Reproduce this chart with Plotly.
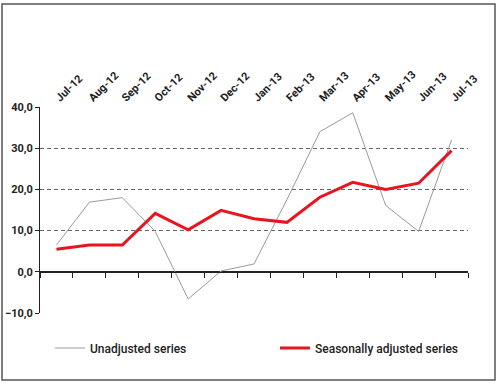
import plotly.graph_objects as go

months = ["Jul-12", "Aug-12", "Sep-12", "Oct-12", "Nov-12", "Dec-12", "Jan-13",
          "Feb-13", "Mar-13", "Apr-13", "May-13", "Jun-13", "Jul-13"]
unadjusted = [6.5, 16.9, 18.0, 9.8, -6.6, 0.2, 1.9, 17.5, 34.0, 38.6, 16.1, 9.8, 32.0]
seasonal = [5.5, 6.5, 6.5, 14.2, 10.2, 14.9, 12.9, 12.0, 18.1, 21.7, 20.0, 21.5, 29.4]
y_ticks = [-10, 0, 10, 20, 30, 40]

FONT = "Roboto, Liberation Sans, sans-serif"

fig = go.Figure()
fig.add_trace(go.Scatter(x=months, y=unadjusted, mode="lines", name="Unadjusted series",
                         line=dict(color="#9a9a9a", width=1), legend="legend"))
fig.add_trace(go.Scatter(x=months, y=seasonal, mode="lines", name="Seasonally adjusted series",
                         line=dict(color="#e8151f", width=3), legend="legend2"))
# invisible trace to drive the top label axis
fig.add_trace(go.Scatter(x=months, y=[None] * len(months), xaxis="x2", showlegend=False,
                         hoverinfo="skip"))

legend_font = dict(family=FONT, size=12, color="#222", weight=500)

fig.update_layout(
    width=500, height=384,
    margin=dict(l=40, r=32, t=107, b=71, autoexpand=False),
    paper_bgcolor="white", plot_bgcolor="white",
    separators=",.",
    font=dict(family=FONT, size=11, color="#222"),
    showlegend=True,
    legend=dict(x=(50 - 40) / 428, y=-0.17, xanchor="left", yanchor="middle",
                font=legend_font, bgcolor="rgba(0,0,0,0)"),
    legend2=dict(x=(275 - 40) / 428, y=-0.17, xanchor="left", yanchor="middle",
                 font=legend_font, bgcolor="rgba(0,0,0,0)"),
    xaxis=dict(type="category", categoryorder="array", categoryarray=months,
               range=[-0.5, 12.5], anchor="free", position=0.2, automargin=False,
               showline=True, linecolor="#222", linewidth=1,
               ticks="outside", tickson="boundaries", ticklen=5, tickcolor="#222",
               showticklabels=False, showgrid=False, zeroline=False),
    xaxis2=dict(type="category", categoryorder="array", categoryarray=months,
                range=[-0.5, 12.5], overlaying="x", side="top", anchor="y", automargin=False,
                showline=False, ticks="", showgrid=False, zeroline=False,
                tickangle=-45, tickfont=dict(family=FONT, size=11, color="#222", weight="bold")),
    yaxis=dict(range=[-10, 40], tickvals=y_ticks, tickformat=".1f", automargin=False,
               showline=True, linecolor="#222", linewidth=1,
               ticks="outside", ticklen=4, tickcolor="#222",
               tickfont=dict(family=FONT, size=11, color="#222", weight="bold"),
               showgrid=True, gridcolor="#666", griddash="4px,3px", gridwidth=1,
               zeroline=True, zerolinecolor="#222", zerolinewidth=1),
    shapes=[dict(type="rect", xref="paper", yref="paper",
                 x0=-38 / 428, x1=(495 - 40) / 428,
                 y0=-(380 - 313) / 206, y1=(313 - 4) / 206,
                 line=dict(color="#555", width=1.5), fillcolor="rgba(0,0,0,0)")],
)

fig.write_html("out.html",
               config={"displayModeBar": False},
               post_script="document.body.style.margin='0';document.body.style.padding='0';"
                           "document.body.style.overflow='hidden';")
